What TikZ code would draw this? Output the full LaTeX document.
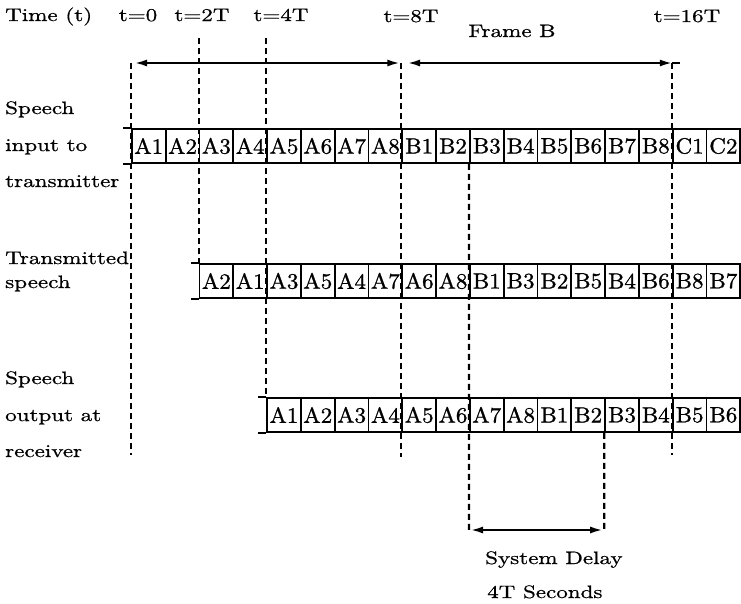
\documentclass[tikz,border=0pt]{standalone}
\usepackage{fontspec}
\newfontfamily\widelm{lmroman10-regular}[Extension=.otf,FakeStretch=1.28,FakeBold=0.8]
\newfontfamily\boxlm{lmroman10-regular}[Extension=.otf,FakeStretch=1.05,FakeBold=1]
\usetikzlibrary{arrows.meta}
\begin{document}
\begin{tikzpicture}[x=1pt,y=-1pt,
  slot/.style={draw,line width=1.8pt,minimum width=33.8pt,minimum height=34pt,
    inner sep=0pt,anchor=west,font=\boxlm\fontsize{22}{22}\selectfont},
  lbl/.style={anchor=base west,inner sep=0pt,font=\widelm\fontsize{18}{18}\selectfont},
  tlbl/.style={anchor=base,inner sep=0pt,font=\widelm\fontsize{18}{18}\selectfont},
  guide/.style={line width=2.1pt,dash pattern=on 6pt off 4pt},
  span/.style={{Latex[length=12pt,width=7pt]}-{Latex[length=12pt,width=7pt]},line width=1.8pt}]
\useasboundingbox (0,0) rectangle (741,603);
% time marks
\node[lbl] (time) at (5,21) {Time (t)};
\node[tlbl] (t0) at (138,21) {t=0};
\node[tlbl] (t2) at (202,21) {t=2T};
\node[tlbl] (t4) at (281,21) {t=4T};
\node[tlbl] (t8) at (411,22) {t=8T};
\node[tlbl] (fb) at (512,37) {Frame B};
\node[tlbl] (t16) at (687,22) {t=16T};
% the three streams
\foreach \name [count=\i from 0] in {A1,A2,A3,A4,A5,A6,A7,A8,B1,B2,B3,B4,B5,B6,B7,B8,C1,C2}
  \node[slot] (in\i) at ({131+\i*33.8},146) {\name};
\foreach \name [count=\i from 0] in {A2,A1,A3,A5,A4,A7,A6,A8,B1,B3,B2,B5,B4,B6,B8,B7}
  \node[slot] (tx\i) at ({198.6+\i*33.8},281) {\name};
\foreach \name [count=\i from 0] in {A1,A2,A3,A4,A5,A6,A7,A8,B1,B2,B3,B4,B5,B6}
  \node[slot] (rx\i) at ({266.2+\i*33.8},415) {\name};
\foreach \r in {in,tx,rx} {
  \draw[line width=1.8pt] (\r0.north west) -- ++(-8,0);
  \draw[line width=1.8pt] (\r0.south west) -- ++(-8,0);
}
% row labels
\node[lbl] (l1a) at (5,114) {Speech};
\node[lbl] (l1b) at (5,151) {input to};
\node[lbl] (l1c) at (5,187) {transmitter};
\node[lbl] (l2a) at (5,264) {Transmitted};
\node[lbl] (l2b) at (5,288) {speech};
\node[lbl] (l3a) at (5,384) {Speech};
\node[lbl] (l3b) at (5,421) {output at};
\node[lbl] (l3c) at (5,457) {receiver};
% guide lines
\coordinate (g0) at (131,63);
\coordinate (g0e) at (131,455);
\coordinate (g2) at (198.6,38);
\coordinate (g4) at (266.2,38);
\coordinate (g8) at (401.4,63);
\coordinate (g8e) at (401.4,457);
\coordinate (g16) at (671.8,63);
\coordinate (g16e) at (671.8,455);
\coordinate (fbl) at (408,63);
\coordinate (fbr) at (680,63);
\coordinate (d1) at (469,530);
\coordinate (d2) at (604.2,530);
\draw[guide] (g0) -- (g0e);
\draw[guide] (g2) -- (tx0.north west);
\draw[guide] (g4) -- (rx0.north west);
\draw[guide] (g8) -- (g8e);
\draw[guide] (g16) -- (g16e);
\draw[guide] (in10.south west) -- (d1);
\draw[guide] (rx10.south west) -- (d2);
% spans
\draw[span,shorten <=4pt,shorten >=2pt] (g0) -- (g8);
\draw[span] (fbl) -- (g16);
\draw[line width=1.8pt] (g16) -- (fbr);
\draw[span,shorten <=2pt,shorten >=2pt] (d1) -- (d2);
\node[lbl] (sd1) at (485,564) {System Delay};
\node[lbl] (sd2) at (487,598) {4T Seconds};
\end{tikzpicture}
\end{document}
